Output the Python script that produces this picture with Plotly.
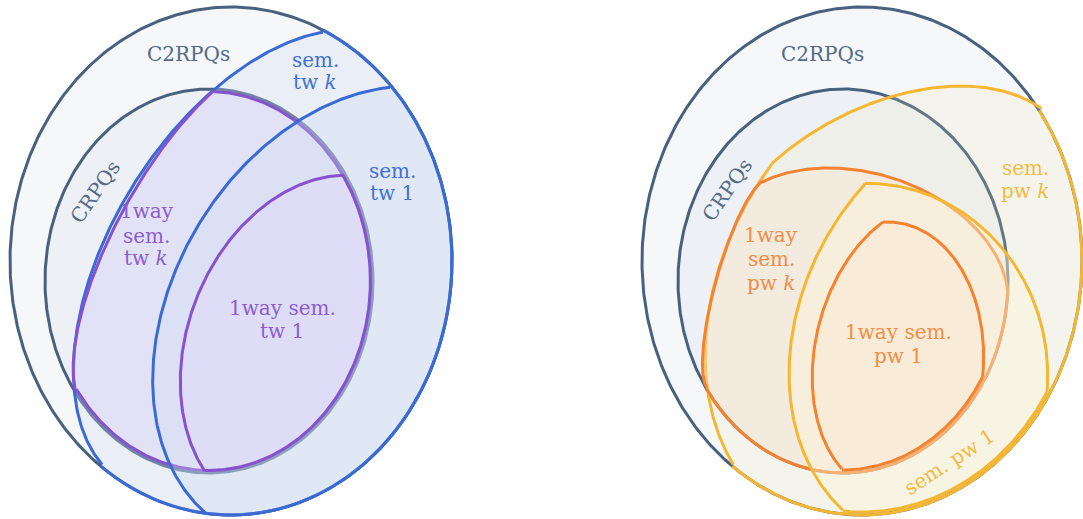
import numpy as np
import plotly.graph_objects as go

# ---------------- data (picture pixel space, y grows downward) ----------------
# set ellipses: [centre x, centre y, radius x, radius y]
left_c2rpqs = [231, 261, 221, 254]
left_crpqs = [209, 281, 164, 192]
right_c2rpqs = [862, 261, 220, 254]
right_crpqs = [843, 281, 165, 192]

# left diagram: boundary points (start -> end)
sem_tw_k_x = [101, 84, 76, 73, 80, 100, 127, 160, 212, 260, 323]
sem_tw_k_y = [466, 428, 385, 340, 307, 253, 197, 147, 90, 57, 32]
ow_tw_k_x = [75, 76, 83, 103, 130, 163, 212]
ow_tw_k_y = [390, 340, 305, 253, 197, 148, 92]
sem_tw_1_x = [207, 183, 167, 157, 153, 157, 173, 203, 247, 297, 340, 390]
sem_tw_1_y = [513, 490, 460, 420, 380, 340, 273, 217, 163, 122, 100, 87]
ow_tw_1_x = [205, 187, 181, 182, 189, 203, 233, 277, 344]
ow_tw_1_y = [471, 435, 400, 367, 322, 280, 237, 197, 175]

# right diagram: boundary points (start -> end)
pw_k_left_x = [733, 718, 707, 707, 717, 733, 760, 772]
pw_k_left_y = [465, 430, 388, 320, 277, 230, 182, 163]
pw_k_top_x = [772, 817, 850, 883, 947, 1000, 1042]
pw_k_top_y = [163, 130, 112, 100, 85, 92, 108]
ow_pw_k_left_x = [707, 707, 717, 733, 760]
ow_pw_k_left_y = [388, 320, 277, 230, 183]
ow_pw_k_top_x = [760, 800, 830, 873, 917, 947, 967, 990, 1003, 1008]
ow_pw_k_top_y = [183, 170, 168, 173, 188, 203, 220, 247, 270, 292]
sem_pw_1_left_x = [843, 822, 807, 795, 790, 789, 792, 800, 817, 840, 865]
sem_pw_1_left_y = [510, 488, 460, 420, 383, 355, 327, 300, 257, 217, 183]
sem_pw_1_right_x = [865, 900, 947, 983, 1013, 1033, 1043, 1048]
sem_pw_1_right_y = [183, 187, 203, 230, 260, 297, 345, 393]
ow_pw_1_left_x = [842, 830, 817, 812, 817, 823, 840, 860, 883]
ow_pw_1_left_y = [469, 453, 417, 373, 333, 310, 273, 243, 222]
ow_pw_1_right_x = [883, 905, 935, 960, 977, 982, 983]
ow_pw_1_right_y = [222, 224, 239, 267, 303, 340, 377]

# labels
label_text = ["C2RPQs", "CRPQs", "sem.", "tw <i>k</i>", "sem.", "tw 1",
              "1way", "sem.", "tw <i>k</i>", "1way sem.", "tw 1",
              "C2RPQs", "CRPQs", "sem.", "pw <i>k</i>", "1way", "sem.", "pw <i>k</i>",
              "1way sem.", "pw 1", "sem. pw 1"]
label_x = [188, 95, 315, 315, 392, 392, 147, 146, 146, 282, 282,
           822, 727, 1025, 1025, 771, 771, 771, 898, 898, 949]
label_y = [54, 192, 60, 82, 171, 193, 211, 236, 258, 308, 331,
           54, 190, 168, 191, 235, 259, 283, 332, 356, 462]
label_angle = [0, -55, 0, 0, 0, 0, 0, 0, 0, 0, 0,
               0, -55, 0, 0, 0, 0, 0, 0, 0, -33]
label_color = ["slate", "slate", "blue", "blue", "blue", "blue",
               "purple", "purple", "purple", "purple", "purple",
               "slate", "slate", "yellow", "yellow", "orange", "orange", "orange",
               "orange", "orange", "yellow"]

# ---------------- styles ----------------
LINE = dict(slate="rgb(72,97,127)", blue="rgb(58,106,212)", purple="rgb(135,82,205)",
            yellow="rgb(245,183,50)", orange="rgb(245,130,48)")
TEXT = dict(slate="rgb(84,106,136)", blue="rgb(66,112,214)", purple="rgb(140,92,208)",
            yellow="rgb(244,186,64)", orange="rgb(243,140,70)")
FILL_OUTER = "rgb(245,247,249)"
FILL_INNER = "rgb(237,241,245)"
FILL_BLUE = "rgba(205,218,243,0.30)"
FILL_PURPLE = "rgba(226,216,250,0.40)"
FILL_YEL_K = "rgba(245,232,175,0.16)"
FILL_ORANGE = "rgba(252,228,204,0.35)"
FILL_YEL_1 = "rgba(253,246,216,0.40)"
FILL_ORANGE_1 = "rgba(252,230,210,0.30)"
LW = 3

fig = go.Figure()


# ---------------- geometry helpers ----------------
def ell_full(e, n=500):
    cx, cy, rx, ry = e
    t = np.linspace(0, 2 * np.pi, n)
    return cx + rx * np.cos(t), cy + ry * np.sin(t)


def ell_arc(e, p0, p1, inset=0.0, n=260):
    """clockwise (on screen) arc of an axis-aligned ellipse from p0 to p1"""
    cx, cy, rx, ry = e
    rx, ry = rx - inset, ry - inset
    t0 = np.arctan2((p0[1] - cy) / ry, (p0[0] - cx) / rx)
    t1 = np.arctan2((p1[1] - cy) / ry, (p1[0] - cx) / rx)
    if t1 <= t0:
        t1 += 2 * np.pi
    t = np.linspace(t0, t1, n)
    return cx + rx * np.cos(t), cy + ry * np.sin(t)


def fitted_arc(xs, ys, n=220):
    """smooth elliptic arc through read boundary points (direct least-squares ellipse fit)"""
    x = np.asarray(xs, float)
    y = np.asarray(ys, float)
    mx, my = x.mean(), y.mean()
    s = max(x.std(), y.std())
    u, v = (x - mx) / s, (y - my) / s
    D1 = np.vstack([u * u, u * v, v * v]).T
    D2 = np.vstack([u, v, np.ones_like(u)]).T
    S1, S2, S3 = D1.T @ D1, D1.T @ D2, D2.T @ D2
    T = -np.linalg.solve(S3, S2.T)
    M = S1 + S2 @ T
    M = np.array([M[2] / 2, -M[1], M[0] / 2])
    _, V = np.linalg.eig(M)
    V = np.real(V)
    cond = 4 * V[0] * V[2] - V[1] ** 2
    a1 = V[:, np.argmax(cond)]
    A, B, C = a1
    D, E, F = T @ a1
    den = B * B - 4 * A * C
    x0 = (2 * C * D - B * E) / den
    y0 = (2 * A * E - B * D) / den
    Fp = A * x0 * x0 + B * x0 * y0 + C * y0 * y0 + D * x0 + E * y0 + F
    lam, vec = np.linalg.eigh(np.array([[A, B / 2], [B / 2, C]]))
    semi = s * np.sqrt(np.abs(Fp / lam))
    c = np.array([mx + s * x0, my + s * y0])
    e1, e2 = vec[:, 0], vec[:, 1]

    def par(px, py):
        d = np.array([px, py]) - c
        return np.arctan2((d @ e2) / semi[1], (d @ e1) / semi[0])

    t0, t1 = par(x[0], y[0]), par(x[-1], y[-1])
    tm = par(x[len(x) // 2], y[len(y) // 2])
    span = (t1 - t0) % (2 * np.pi)
    if (tm - t0) % (2 * np.pi) <= span:
        t = t0 + np.linspace(0, span, n)
    else:
        t = t0 - np.linspace(0, 2 * np.pi - span, n)
    px = c[0] + semi[0] * np.cos(t) * e1[0] + semi[1] * np.sin(t) * e2[0]
    py = c[1] + semi[0] * np.cos(t) * e1[1] + semi[1] * np.sin(t) * e2[1]
    return px, py


def add_fill(xs, ys, color):
    fig.add_trace(go.Scatter(x=list(xs), y=list(ys), mode="lines", fill="toself",
                             fillcolor=color, line=dict(width=0),
                             hoverinfo="skip", showlegend=False))


def add_line(xs, ys, color):
    fig.add_trace(go.Scatter(x=list(xs), y=list(ys), mode="lines",
                             line=dict(color=color, width=LW),
                             hoverinfo="skip", showlegend=False))


def region(parts, fill, color):
    X = np.concatenate([p[0] for p in parts])
    Y = np.concatenate([p[1] for p in parts])
    add_fill(np.append(X, X[0]), np.append(Y, Y[0]), fill)
    for xs, ys in parts:
        add_line(xs, ys, color)


def full_set(e, fill):
    x, y = ell_full(e)
    add_fill(x, y, fill)
    add_line(x, y, LINE["slate"])


def curve_then_ellipse(curves, ell, fill, color, inset=0.0):
    arcs = [fitted_arc(cx, cy) for cx, cy in curves]
    first, last = arcs[0], arcs[-1]
    ex, ey = ell_arc(ell, (last[0][-1], last[1][-1]), (first[0][0], first[1][0]), inset=inset)
    region(arcs + [(ex, ey)], fill, color)


# ---------------- left diagram ----------------
full_set(left_c2rpqs, FILL_OUTER)
full_set(left_crpqs, FILL_INNER)
curve_then_ellipse([(sem_tw_k_x, sem_tw_k_y)], left_c2rpqs, FILL_BLUE, LINE["blue"])
curve_then_ellipse([(ow_tw_k_x, ow_tw_k_y)], left_crpqs, FILL_PURPLE, LINE["purple"], inset=2.5)
curve_then_ellipse([(sem_tw_1_x, sem_tw_1_y)], left_c2rpqs, FILL_BLUE, LINE["blue"])
curve_then_ellipse([(ow_tw_1_x, ow_tw_1_y)], left_crpqs, FILL_PURPLE, LINE["purple"], inset=2.5)

# ---------------- right diagram ----------------
full_set(right_c2rpqs, FILL_OUTER)
full_set(right_crpqs, FILL_INNER)
curve_then_ellipse([(pw_k_left_x, pw_k_left_y), (pw_k_top_x, pw_k_top_y)],
                   right_c2rpqs, FILL_YEL_K, LINE["yellow"])
curve_then_ellipse([(ow_pw_k_left_x, ow_pw_k_left_y), (ow_pw_k_top_x, ow_pw_k_top_y)],
                   right_crpqs, FILL_ORANGE, LINE["orange"])
curve_then_ellipse([(sem_pw_1_left_x, sem_pw_1_left_y), (sem_pw_1_right_x, sem_pw_1_right_y)],
                   right_c2rpqs, FILL_YEL_1, LINE["yellow"], inset=3)
curve_then_ellipse([(ow_pw_1_left_x, ow_pw_1_left_y), (ow_pw_1_right_x, ow_pw_1_right_y)],
                   right_crpqs, FILL_ORANGE_1, LINE["orange"], inset=3)

# ---------------- labels ----------------
for t, x, y, a, c in zip(label_text, label_x, label_y, label_angle, label_color):
    fig.add_annotation(x=x, y=y, xref="x", yref="y", text=t, showarrow=False,
                       textangle=a, xanchor="center", yanchor="middle",
                       font=dict(family="DejaVu Serif", size=20, color=TEXT[c]))

fig.update_layout(
    width=1083, height=519, margin=dict(l=0, r=0, t=0, b=0),
    paper_bgcolor="white", plot_bgcolor="white", showlegend=False,
    xaxis=dict(range=[0, 1083], visible=False, fixedrange=True),
    yaxis=dict(range=[519, 0], visible=False, fixedrange=True),
)

fig.write_html("out.html", config={"displayModeBar": False},
               post_script="document.body.style.margin='0';document.body.style.overflow='hidden';")
